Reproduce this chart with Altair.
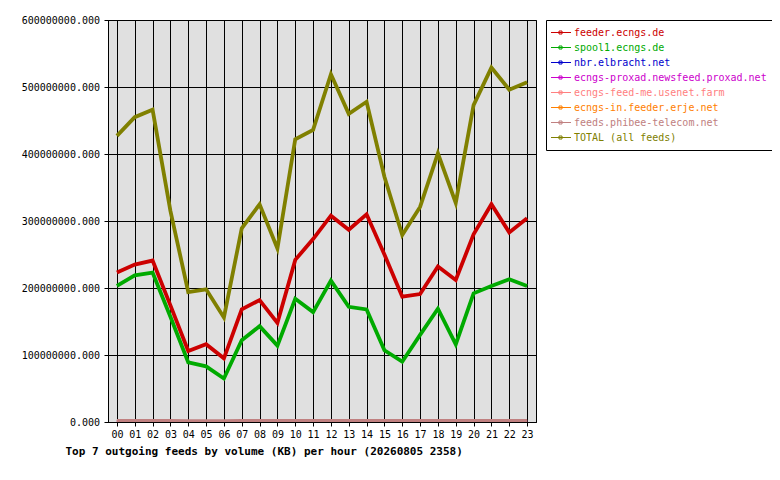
import altair as alt
import pandas as pd

hours = list(range(24))

series_names = [
    "feeder.ecngs.de",
    "spool1.ecngs.de",
    "nbr.elbracht.net",
    "ecngs-proxad.newsfeed.proxad.net",
    "ecngs-feed-me.usenet.farm",
    "ecngs-in.feeder.erje.net",
    "feeds.phibee-telecom.net",
    "TOTAL (all feeds)",
]
series_colors = ["#cc0000", "#00aa00", "#0000cc", "#cc00cc", "#ff8080", "#ff8000", "#c08080", "#808000"]

# values in KB
feeder = [223e6, 235e6, 241e6, 174e6, 106e6, 116e6, 95e6, 168e6, 182e6, 148e6, 242e6, 273e6,
          308e6, 287e6, 310e6, 250e6, 187e6, 191e6, 232e6, 212e6, 280e6, 325e6, 283e6, 304e6]
spool1 = [203e6, 219e6, 223e6, 157e6, 89e6, 83e6, 65e6, 122e6, 143e6, 114e6, 184e6, 164e6,
          211e6, 172e6, 168e6, 107e6, 90e6, 130e6, 169e6, 116e6, 192e6, 203e6, 213e6, 203e6]
nbr = [0.3e6, 0.3e6, 0.2e6, 0.2e6, 0.1e6, 0.1e6, 0.1e6, 0.2e6, 0.2e6, 0.2e6, 0.3e6, 0.3e6,
       0.3e6, 0.3e6, 0.3e6, 0.2e6, 0.2e6, 0.2e6, 0.3e6, 0.2e6, 0.3e6, 0.3e6, 0.3e6, 0.3e6]
proxad = [0.2e6, 0.2e6, 0.2e6, 0.1e6, 0.1e6, 0.1e6, 0.1e6, 0.1e6, 0.2e6, 0.1e6, 0.2e6, 0.2e6,
          0.2e6, 0.2e6, 0.2e6, 0.2e6, 0.1e6, 0.1e6, 0.2e6, 0.1e6, 0.2e6, 0.2e6, 0.2e6, 0.2e6]
feedme = [0.2e6, 0.2e6, 0.2e6, 0.1e6, 0.1e6, 0.1e6, 0.1e6, 0.1e6, 0.1e6, 0.1e6, 0.2e6, 0.2e6,
          0.2e6, 0.2e6, 0.2e6, 0.1e6, 0.1e6, 0.1e6, 0.2e6, 0.1e6, 0.2e6, 0.2e6, 0.2e6, 0.2e6]
erje = [0.3e6, 0.3e6, 0.3e6, 0.2e6, 0.1e6, 0.1e6, 0.1e6, 0.2e6, 0.2e6, 0.2e6, 0.3e6, 0.3e6,
        0.3e6, 0.3e6, 0.3e6, 0.3e6, 0.2e6, 0.2e6, 0.3e6, 0.2e6, 0.3e6, 0.3e6, 0.3e6, 0.3e6]
phibee = [1.6e6, 1.6e6, 1.6e6, 1.5e6, 1.4e6, 1.4e6, 1.4e6, 1.5e6, 1.5e6, 1.5e6, 1.6e6, 1.6e6,
          1.7e6, 1.6e6, 1.7e6, 1.6e6, 1.5e6, 1.5e6, 1.6e6, 1.5e6, 1.6e6, 1.7e6, 1.6e6, 1.7e6]
total = [427e6, 455e6, 466e6, 315e6, 194e6, 198e6, 156e6, 289e6, 325e6, 259e6, 422e6, 436e6,
         519e6, 460e6, 478e6, 366e6, 279e6, 321e6, 401e6, 327e6, 473e6, 529e6, 496e6, 507e6]

y_ticks = [0, 100e6, 200e6, 300e6, 400e6, 500e6, 600e6]
title_text = "Top 7 outgoing feeds by volume (KB) per hour (20260805 2358)"

series_values = [feeder, spool1, nbr, proxad, feedme, erje, phibee, total]
rows = []
for name, vals in zip(series_names, series_values):
    for h, v in zip(hours, vals):
        rows.append({"hour": h, "kb": v, "feed": name})
df = pd.DataFrame(rows)

color_expr = ""
for n, c in zip(series_names[:-1], series_colors[:-1]):
    color_expr += f"datum.value === '{n}' ? '{c}' : "
color_expr += f"'{series_colors[-1]}'"

FONT = "DejaVu Sans Mono"

legend = alt.Legend(
    title=None,
    orient="none",
    legendX=438,
    legendY=0,
    strokeColor="black",
    fillColor="white",
    padding=5,
    cornerRadius=0,
    clipHeight=15,
    rowPadding=0,
    symbolType="M-1.3,0H2.9M0.5,-0.3H1.1V0.3H0.5Z",
    symbolSize=100,
    symbolStrokeWidth=1,
    labelFont=FONT,
    labelFontSize=10,
    labelOffset=12,
    labelLimit=400,
    labelColor=alt.ExprRef(color_expr),
)

chart = alt.Chart(df).mark_line(strokeWidth=3.8, clip=True).encode(
    x=alt.X(
        "hour:Q",
        scale=alt.Scale(domain=[-0.5, 23.5], nice=False, zero=False),
        axis=alt.Axis(
            values=hours,
            labelExpr="datum.value < 10 ? '0' + datum.value : '' + datum.value",
            grid=True,
            gridColor="black",
            gridWidth=1,
            gridOpacity=1,
            domainColor="black",
            tickColor="black",
            tickSize=4,
            labelFont=FONT,
            labelFontSize=10,
            labelColor="black",
            labelPadding=3,
            labelFlush=False,
            labelOverlap=False,
            title=title_text,
            titleFont=FONT,
            titleFontSize=11,
            titleFontWeight="bold",
            titleColor="black",
            titleX=-43,
            titleY=29.5,
            titleAlign="left",
            titleBaseline="middle",
            titleAnchor="start",
        ),
    ),
    y=alt.Y(
        "kb:Q",
        scale=alt.Scale(domain=[0, 600e6], nice=False, zero=True),
        axis=alt.Axis(
            values=y_ticks,
            format=".3f",
            grid=True,
            gridColor="black",
            gridWidth=1,
            gridOpacity=1,
            domainColor="black",
            tickColor="black",
            tickSize=4,
            labelFont=FONT,
            labelFontSize=10,
            labelColor="black",
            labelPadding=4.5,
            labelBaseline="middle",
            title=None,
        ),
    ),
    color=alt.Color(
        "feed:N",
        scale=alt.Scale(domain=series_names, range=series_colors),
        legend=legend,
    ),
    order=alt.Order("hour:Q"),
).properties(
    width=428,
    height=402,
    padding={"left": 100, "top": 12, "right": 236, "bottom": 48},
    autosize=alt.AutoSizeParams(type="none"),
    background="white",
).configure_view(
    fill="#e0e0e0",
    stroke="black",
    strokeWidth=1,
)

chart.save("out.html", embed_options={"renderer": "svg", "actions": False})
